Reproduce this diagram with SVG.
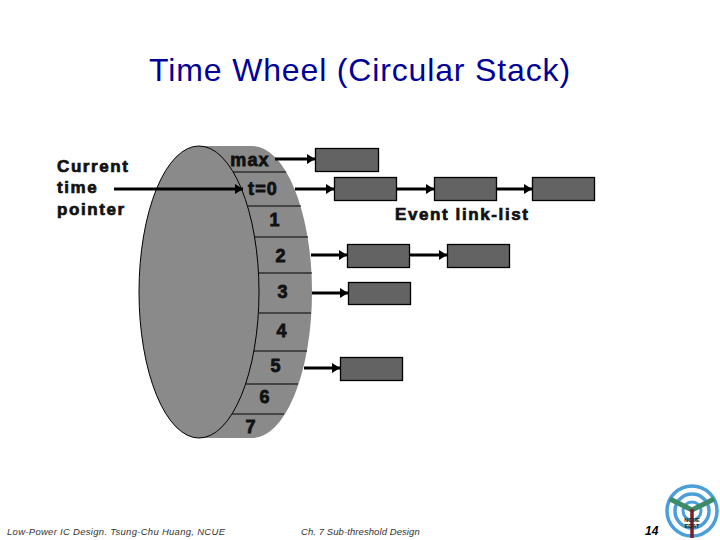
<svg xmlns="http://www.w3.org/2000/svg" width="720" height="540" viewBox="0 0 720 540">
<style>
.t{font-family:"Liberation Sans",Arial,sans-serif}
.b{font-family:"Liberation Sans",Arial,sans-serif;font-weight:bold;font-size:18px;fill:#111;stroke:#111;stroke-width:.8;text-anchor:middle;letter-spacing:1.2px}
.n{font-family:"Liberation Sans",Arial,sans-serif;font-weight:bold;font-size:17px;fill:#111;stroke:#111;stroke-width:.7;letter-spacing:1.6px}
.box{fill:#636363;stroke:#000;stroke-width:1.3}
.sep{stroke:#000;stroke-width:1;fill:none}
.ar{stroke:#000;stroke-width:3;fill:none;marker-end:url(#a)}
.f{font-family:"Liberation Sans",Arial,sans-serif;font-style:italic;font-size:9.5px;fill:#333}
</style>
<defs>
<marker id="a" markerUnits="userSpaceOnUse" markerWidth="9" markerHeight="10" refX="8" refY="5" orient="auto"><path d="M0 0L8 5L0 10Z" fill="#000"/></marker>
</defs>
<rect width="720" height="540" fill="#fff"/>
<text class="t" x="360" y="81" font-size="32" letter-spacing=".85" fill="#000099" text-anchor="middle">Time Wheel (Circular Stack)</text>
<g id="wheel">
<path d="M199 146H252A60 146 0 0 1 252 438H199Z" fill="#8a8a8a"/>
<g class="sep">
<path d="M232 172H286M248 206H301M255 237H308M259 273H312M259 313H311M254 351H307M245 384H298M231 414H284"/>
</g>
<ellipse cx="199" cy="292" rx="60" ry="146" fill="#8a8a8a" stroke="#000" stroke-width="1"/>
</g>
<g id="labels">
<text class="b" x="250" y="166">max</text>
<text class="b" x="263" y="195">t=0</text>
<text class="b" x="275" y="226">1</text>
<text class="b" x="281" y="262">2</text>
<text class="b" x="283" y="298">3</text>
<text class="b" x="282" y="337">4</text>
<text class="b" x="276" y="372">5</text>
<text class="b" x="265" y="403">6</text>
<text class="b" x="251" y="433">7</text>
<text class="n" x="57" y="172">Current</text>
<text class="n" x="57" y="193">time</text>
<text class="n" x="57" y="215">pointer</text>
<text class="n" x="395" y="220">Event link-list</text>
</g>
<g id="connectors">
<path class="ar" d="M114 189H243"/>
<path class="ar" d="M275 159H315"/>
<path class="ar" d="M295 189H334"/>
<path class="ar" d="M397 189H434"/>
<path class="ar" d="M497 189H532"/>
<path class="ar" d="M311 255H347"/>
<path class="ar" d="M410 255H447"/>
<path class="ar" d="M312 293H348"/>
<path class="ar" d="M304 368H340"/>
</g>
<g id="node-1"><rect class="box" x="315.500" y="148.500" width="63" height="23"/></g>
<g id="node-2"><rect class="box" x="334.500" y="177.500" width="62" height="23"/></g>
<g id="node-3"><rect class="box" x="434.500" y="177.500" width="62" height="23"/></g>
<g id="node-4"><rect class="box" x="532.500" y="177.500" width="62" height="23"/></g>
<g id="node-5"><rect class="box" x="347.500" y="244.500" width="62" height="23"/></g>
<g id="node-6"><rect class="box" x="447.500" y="244.500" width="62" height="23"/></g>
<g id="node-7"><rect class="box" x="348.500" y="282.500" width="62" height="22"/></g>
<g id="node-8"><rect class="box" x="340.500" y="357.500" width="62" height="23"/></g>
<g id="footer">
<text class="f" x="7" y="535" letter-spacing=".29">Low-Power IC Design. Tsung-Chu Huang, NCUE</text>
<text class="f" x="301" y="535" letter-spacing=".08">Ch. 7 Sub-threshold Design</text>
<text class="t" x="645" y="535" font-size="12" font-weight="bold" font-style="italic" fill="#000">14</text>
</g>
<g id="logo" fill="none">
<circle cx="692" cy="511" r="25" stroke="#4a9fd8" stroke-width="3.500"/>
<circle cx="692" cy="511" r="17" stroke="#4a9fd8" stroke-width="3.500"/>
<circle cx="692" cy="511" r="9" stroke="#4a9fd8" stroke-width="3"/>
<path d="M670 499L692 510L714 499" stroke="#3d8a68" stroke-width="5"/>
<path d="M692 509V538" stroke="#7a1f2a" stroke-width="3.500"/>
<text class="t" x="692" y="522" font-size="5.500" font-weight="bold" fill="#222" text-anchor="middle">NCUE</text>
<text class="t" x="692" y="528" font-size="5.500" font-weight="bold" fill="#222" text-anchor="middle">EDAT</text>
</g>
</svg>
